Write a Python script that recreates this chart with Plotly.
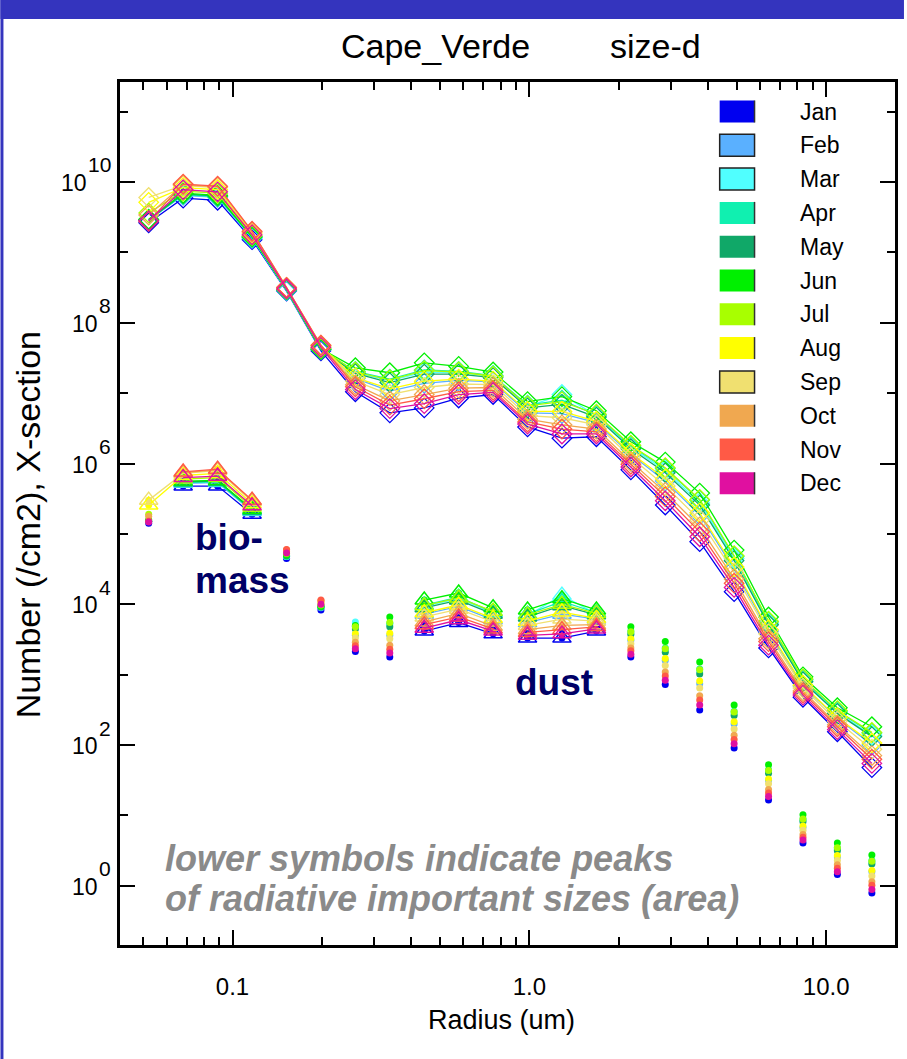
import plotly.graph_objects as go

# ---------------- data ----------------
radius_um = [0.0522, 0.0682, 0.0891, 0.1164, 0.1521, 0.1986, 0.2594, 0.3388,
             0.4426, 0.5781, 0.7551, 0.9863, 1.288, 1.683, 2.198, 2.871,
             3.750, 4.898, 6.397, 8.356, 10.91, 14.26]

months = ["Jan", "Feb", "Mar", "Apr", "May", "Jun",
          "Jul", "Aug", "Sep", "Oct", "Nov", "Dec"]
month_colors = ["#0000F0", "#5AB0FF", "#50FFFF", "#10F0B0", "#10A868", "#00F000",
                "#A8FF00", "#FFFF00", "#F0E070", "#F0A850", "#FF5A46", "#E010A0"]

# number size distribution (log10 of /cm2), upper curves with diamonds
jan_number_log10 = [9.42, 9.77, 9.74, 9.18, 8.45, 7.60, 7.02, 6.72, 6.79, 6.93, 6.98, 6.52, 6.36, 6.38, 5.91, 5.41, 4.89, 4.18, 3.38, 2.68, 2.19, 1.68]
feb_number_log10 = [9.46, 9.81, 9.78, 9.20, 8.46, 7.62, 7.21, 7.03, 7.14, 7.18, 7.16, 6.72, 6.71, 6.58, 6.13, 5.75, 5.27, 4.50, 3.62, 2.84, 2.38, 2.00]
mar_number_log10 = [9.46, 9.82, 9.79, 9.21, 8.46, 7.62, 7.29, 7.18, 7.30, 7.29, 7.24, 6.81, 6.98, 6.68, 6.23, 5.90, 5.44, 4.65, 3.73, 2.91, 2.46, 2.14]
apr_number_log10 = [9.46, 9.82, 9.79, 9.21, 8.46, 7.62, 7.31, 7.20, 7.33, 7.31, 7.25, 6.83, 6.90, 6.69, 6.25, 5.93, 5.48, 4.68, 3.75, 2.93, 2.48, 2.17]
may_number_log10 = [9.46, 9.83, 9.80, 9.22, 8.47, 7.62, 7.28, 7.15, 7.27, 7.27, 7.22, 6.79, 6.84, 6.66, 6.21, 5.87, 5.41, 4.62, 3.71, 2.90, 2.45, 2.12]
jun_number_log10 = [9.47, 9.84, 9.81, 9.22, 8.47, 7.63, 7.36, 7.29, 7.43, 7.38, 7.30, 6.88, 6.95, 6.75, 6.31, 6.02, 5.58, 4.77, 3.82, 2.97, 2.53, 2.26]
jul_number_log10 = [9.56, 9.87, 9.84, 9.24, 8.48, 7.64, 7.30, 7.19, 7.32, 7.30, 7.24, 6.82, 6.88, 6.70, 6.26, 5.94, 5.49, 4.69, 3.76, 2.94, 2.49, 2.18]
aug_number_log10 = [9.71, 9.92, 9.89, 9.27, 8.49, 7.66, 7.22, 7.06, 7.17, 7.20, 7.17, 6.74, 6.74, 6.60, 6.15, 5.78, 5.30, 4.53, 3.64, 2.85, 2.39, 2.03]
sep_number_log10 = [9.78, 9.95, 9.92, 9.29, 8.50, 7.67, 7.17, 6.98, 7.08, 7.13, 7.12, 6.68, 6.65, 6.55, 6.09, 5.68, 5.20, 4.45, 3.58, 2.81, 2.34, 1.94]
oct_number_log10 = [9.53, 9.96, 9.93, 9.29, 8.50, 7.68, 7.12, 6.89, 6.98, 7.07, 7.08, 6.63, 6.55, 6.49, 6.03, 5.59, 5.10, 4.36, 3.51, 2.77, 2.29, 1.85]
nov_number_log10 = [9.44, 9.97, 9.94, 9.30, 8.50, 7.68, 7.09, 6.83, 6.92, 7.02, 7.04, 6.59, 6.49, 6.45, 5.99, 5.53, 5.03, 4.30, 3.47, 2.74, 2.26, 1.80]
dec_number_log10 = [9.45, 9.89, 9.86, 9.25, 8.48, 7.65, 7.05, 6.78, 6.85, 6.98, 7.01, 6.56, 6.42, 6.42, 5.95, 5.47, 4.96, 4.24, 3.42, 2.71, 2.22, 1.74]

# cross-section (area) weighted values, lower dot symbols
jan_xsect_log10 = [5.15, 5.68, 5.68, 5.28, 4.65, 3.92, 3.33, 3.25, 3.62, 3.74, 3.58, 3.52, 3.52, 3.62, 3.25, 2.86, 2.50, 1.96, 1.22, 0.61, 0.16, -0.10]
feb_xsect_log10 = [5.18, 5.72, 5.73, 5.32, 4.68, 3.95, 3.56, 3.56, 3.86, 3.97, 3.78, 3.74, 3.86, 3.79, 3.49, 3.20, 2.87, 2.30, 1.50, 0.83, 0.41, 0.20]
mar_xsect_log10 = [5.18, 5.73, 5.74, 5.33, 4.68, 3.96, 3.75, 3.71, 3.97, 4.08, 3.88, 3.84, 4.13, 3.86, 3.59, 3.35, 3.04, 2.45, 1.62, 0.93, 0.52, 0.33]
apr_xsect_log10 = [5.18, 5.73, 5.74, 5.33, 4.68, 3.96, 3.69, 3.73, 3.99, 4.10, 3.89, 3.86, 4.04, 3.88, 3.62, 3.38, 3.08, 2.48, 1.65, 0.95, 0.54, 0.36]
may_xsect_log10 = [5.18, 5.74, 5.75, 5.34, 4.69, 3.96, 3.65, 3.68, 3.95, 4.06, 3.86, 3.82, 3.98, 3.85, 3.57, 3.32, 3.01, 2.42, 1.60, 0.91, 0.50, 0.31]
jun_xsect_log10 = [5.20, 5.75, 5.76, 5.35, 4.70, 3.97, 3.70, 3.82, 4.06, 4.16, 3.95, 3.92, 4.08, 3.92, 3.68, 3.47, 3.18, 2.57, 1.72, 1.01, 0.61, 0.44]
jul_xsect_log10 = [5.28, 5.78, 5.80, 5.38, 4.72, 3.99, 3.68, 3.74, 3.98, 4.09, 3.90, 3.85, 4.00, 3.87, 3.61, 3.37, 3.07, 2.47, 1.64, 0.95, 0.54, 0.35]
aug_xsect_log10 = [5.41, 5.83, 5.86, 5.43, 4.75, 4.03, 3.58, 3.59, 3.88, 3.99, 3.80, 3.76, 3.89, 3.80, 3.51, 3.23, 2.91, 2.33, 1.52, 0.85, 0.43, 0.22]
sep_xsect_log10 = [5.48, 5.86, 5.90, 5.46, 4.77, 4.05, 3.52, 3.51, 3.82, 3.93, 3.75, 3.70, 3.79, 3.76, 3.44, 3.13, 2.81, 2.23, 1.45, 0.79, 0.36, 0.14]
oct_xsect_log10 = [5.25, 5.87, 5.91, 5.47, 4.77, 4.05, 3.46, 3.42, 3.75, 3.87, 3.69, 3.64, 3.70, 3.71, 3.38, 3.04, 2.70, 2.14, 1.37, 0.73, 0.30, 0.06]
nov_xsect_log10 = [5.18, 5.88, 5.92, 5.48, 4.78, 4.06, 3.41, 3.36, 3.71, 3.82, 3.65, 3.60, 3.64, 3.68, 3.34, 2.98, 2.64, 2.08, 1.32, 0.69, 0.25, 0.01]
dec_xsect_log10 = [5.17, 5.80, 5.82, 5.40, 4.73, 4.00, 3.37, 3.31, 3.66, 3.78, 3.62, 3.56, 3.58, 3.65, 3.29, 2.92, 2.57, 2.02, 1.27, 0.65, 0.20, -0.05]

# bins marked as peaks (triangles) in the lower symbols
biomass_peak_bins = [1, 2, 3]
biomass_peak_bins_extended = [0, 1, 2, 3]   # Aug, Sep also peak at smallest bin
dust_peak_bins_a = [8, 9, 10]
dust_peak_bins_b = [11, 12, 13]

# axis tick values / labels
x_major = [0.1, 1.0, 10.0]
x_major_text = ["0.1", "1.0", "10.0"]
x_minor = [0.05, 0.06, 0.07, 0.08, 0.09, 0.2, 0.3, 0.4, 0.5, 0.6, 0.7, 0.8, 0.9,
           2, 3, 4, 5, 6, 7, 8, 9]
y_major_exponents = [0, 2, 4, 6, 8, 10]
y_minor_exponents = [1, 3, 5, 7, 9, 11]

number_series = [jan_number_log10, feb_number_log10, mar_number_log10, apr_number_log10,
                 may_number_log10, jun_number_log10, jul_number_log10, aug_number_log10,
                 sep_number_log10, oct_number_log10, nov_number_log10, dec_number_log10]
xsect_series = [jan_xsect_log10, feb_xsect_log10, mar_xsect_log10, apr_xsect_log10,
                may_xsect_log10, jun_xsect_log10, jul_xsect_log10, aug_xsect_log10,
                sep_xsect_log10, oct_xsect_log10, nov_xsect_log10, dec_xsect_log10]

# ---------------- layout geometry (pixels) ----------------
W, H = 907, 1059
L, R, T, B = 120, 898, 82, 945


def px(x):
    return (x - L) / (R - L)


def py(y):
    return (B - y) / (B - T)


FONT = "Liberation Sans, Arial, Helvetica, sans-serif"

fig = go.Figure()

# lower symbols: filled dots
for m, col, lo in zip(months, month_colors, xsect_series):
    vals = [10 ** v for v in lo]
    fig.add_trace(go.Scatter(
        x=radius_um, y=vals, mode="markers", showlegend=False,
        marker=dict(symbol="circle", size=7, color=col, line=dict(width=0)),
        name=m + " X-section"))

# lower symbols: peak triangles
for m, col, lo in zip(months, month_colors, xsect_series):
    bio = biomass_peak_bins_extended if m in ("Aug", "Sep") else biomass_peak_bins
    xs, ys = [], []
    for grp in (bio, dust_peak_bins_a, dust_peak_bins_b):
        for k in grp:
            xs.append(radius_um[k])
            ys.append(10 ** lo[k])
        xs.append(None)
        ys.append(None)
    fig.add_trace(go.Scatter(
        x=xs, y=ys, mode="lines+markers", showlegend=False, connectgaps=False,
        line=dict(color=col, width=1.3),
        marker=dict(symbol="triangle-up-open", size=16, color=col, line=dict(width=1.5, color=col)),
        name=m + " peaks"))

# upper curves: number distribution with diamonds
for m, col, up in zip(months, month_colors, number_series):
    vals = [10 ** v for v in up]
    fig.add_trace(go.Scatter(
        x=radius_um, y=vals, mode="lines+markers", showlegend=False,
        line=dict(color=col, width=1.3),
        marker=dict(symbol="diamond-open", size=15, color=col, line=dict(width=1.3, color=col)),
        name=m))

shapes = []
annotations = []

# frame bands (blue)
shapes.append(dict(type="rect", xref="paper", yref="paper",
                   x0=px(0), x1=px(W), y0=py(19), y1=py(0),
                   fillcolor="#3434BE", line=dict(width=0), layer="above"))
shapes.append(dict(type="rect", xref="paper", yref="paper",
                   x0=px(0), x1=px(3), y0=py(H), y1=py(0),
                   fillcolor="#3434BE", line=dict(width=0), layer="above"))

# y tick labels: 10 with a near-full-size exponent, right-aligned at x=113
for e in y_major_exponents:
    sup = str(e)
    sup_w = 11.7 * len(sup)
    annotations.append(dict(text=sup, xref="paper", yref="y", x=px(113), y=e,
                            xanchor="right", yanchor="middle", yshift=17, showarrow=False,
                            font=dict(family=FONT, size=21, color="black")))
    annotations.append(dict(text="10", xref="paper", yref="y", x=px(113 - sup_w - 1), y=e,
                            xanchor="right", yanchor="middle", yshift=-1, showarrow=False,
                            font=dict(family=FONT, size=23, color="black")))

# manual legend
outlined = {"Feb", "Mar", "Sep"}
for i, (m, col) in enumerate(zip(months, month_colors)):
    yc = 111.5 + 33.8 * i
    shapes.append(dict(type="rect", xref="paper", yref="paper",
                       x0=px(722), x1=px(757), y0=py(yc + 11), y1=py(yc - 11),
                       fillcolor=col,
                       line=dict(width=1.5 if m in outlined else 0, color="#222222"),
                       layer="above"))
    if m not in outlined:
        shapes.append(dict(type="line", xref="paper", yref="paper",
                           x0=px(757), x1=px(757), y0=py(yc + 11), y1=py(yc - 11),
                           line=dict(width=1.5, color="#333333"), layer="above"))
    annotations.append(dict(text=m, xref="paper", yref="paper", x=px(801), y=py(yc),
                            xanchor="left", yanchor="middle", showarrow=False,
                            font=dict(family=FONT, size=23, color="black")))

# title
annotations.append(dict(text="Cape_Verde", xref="paper", yref="paper", x=px(437), y=py(46),
                        xanchor="center", yanchor="middle", showarrow=False,
                        font=dict(family=FONT, size=34, color="black")))
annotations.append(dict(text="size-d", xref="paper", yref="paper", x=px(658), y=py(46),
                        xanchor="center", yanchor="middle", showarrow=False,
                        font=dict(family=FONT, size=34, color="black")))

# axis titles
annotations.append(dict(text="Number (/cm2), X-section", xref="paper", yref="paper",
                        x=px(28), y=py(525), xanchor="center", yanchor="middle",
                        textangle=-90, showarrow=False,
                        font=dict(family=FONT, size=34, color="black")))
annotations.append(dict(text="Radius (um)", xref="paper", yref="paper",
                        x=px(503), y=py(1020), xanchor="center", yanchor="middle",
                        showarrow=False, font=dict(family=FONT, size=27, color="black")))

# in-plot labels
navy = "#000066"
annotations.append(dict(text="<b>bio-</b>", xref="paper", yref="paper", x=px(193), y=py(537),
                        xanchor="left", yanchor="middle", showarrow=False,
                        font=dict(family=FONT, size=37, color=navy)))
annotations.append(dict(text="<b>mass</b>", xref="paper", yref="paper", x=px(193), y=py(580),
                        xanchor="left", yanchor="middle", showarrow=False,
                        font=dict(family=FONT, size=37, color=navy)))
annotations.append(dict(text="<b>dust</b>", xref="paper", yref="paper", x=px(515), y=py(682),
                        xanchor="left", yanchor="middle", showarrow=False,
                        font=dict(family=FONT, size=37, color=navy)))
gray = "#8A8A8A"
annotations.append(dict(text="<b><i>lower symbols indicate peaks</i></b>", xref="paper", yref="paper",
                        x=px(163), y=py(858), xanchor="left", yanchor="middle", showarrow=False,
                        font=dict(family=FONT, size=36, color=gray)))
annotations.append(dict(text="<b><i>of radiative important sizes (area)</i></b>", xref="paper", yref="paper",
                        x=px(163), y=py(898), xanchor="left", yanchor="middle", showarrow=False,
                        font=dict(family=FONT, size=36, color=gray)))

fig.update_layout(
    width=W, height=H,
    margin=dict(l=L, r=W - R, t=T, b=H - B, pad=0),
    paper_bgcolor="white", plot_bgcolor="white",
    showlegend=False,
    shapes=shapes, annotations=annotations,
    xaxis=dict(type="log", range=[-1.379, 1.232], showgrid=False, zeroline=False,
               showline=True, linecolor="black", linewidth=2.5, mirror="ticks",
               ticks="inside", ticklen=15, tickwidth=2, tickcolor="black",
               tickmode="array", tickvals=x_major, ticktext=x_major_text,
               ticklabelstandoff=18,
               tickfont=dict(family=FONT, size=24, color="black"),
               minor=dict(tickmode="array", tickvals=x_minor, ticks="inside",
                          ticklen=8, tickwidth=2, tickcolor="black", showgrid=False)),
    yaxis=dict(type="log", range=[-0.84, 11.42], showgrid=False, zeroline=False,
               showline=True, linecolor="black", linewidth=2.5, mirror="ticks",
               ticks="inside", ticklen=15, tickwidth=2, tickcolor="black",
               tickmode="array", tickvals=[10.0 ** e for e in y_major_exponents],
               showticklabels=False,
               minor=dict(tickmode="array", tickvals=[10.0 ** e for e in y_minor_exponents],
                          ticks="inside", ticklen=8, tickwidth=2, tickcolor="black",
                          showgrid=False)),
)

fig.write_html("out.html")
